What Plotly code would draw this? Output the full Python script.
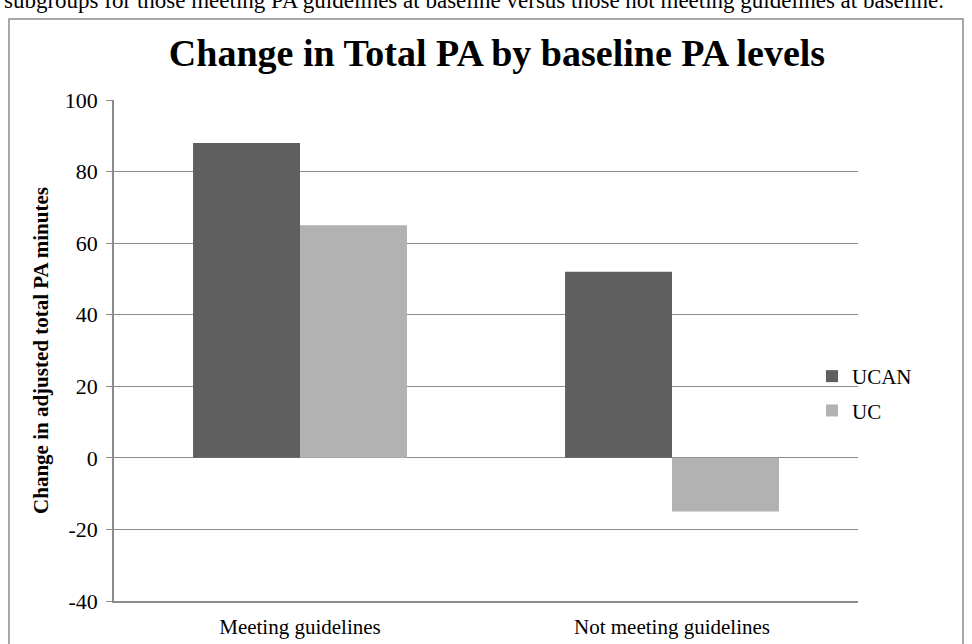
import plotly.graph_objects as go

categories = ["Meeting guidelines", "Not meeting guidelines"]
ucan = [88, 52]
uc = [65, -15]
series_names = ["UCAN", "UC"]
colors = ["#5f5f5f", "#b2b2b2"]
y_ticks = [-40, -20, 0, 20, 40, 60, 80, 100]
y_tick_labels = ["-40", "-20", "0", "20", "40", "60", "80", "100"]
title_text = "Change in Total PA by baseline PA levels"
y_title = "Change in adjusted total PA minutes"
caption = "subgroups for those meeting PA guidelines at baseline versus those not meeting guidelines at baseline."

W, H = 972, 644
L, R, T, B = 114, 114, 100, 43
pw, ph = W - L - R, H - T - B

def px(x):
    return (x - L) / pw

def py(y):
    return (H - B - y) / ph

font = "Liberation Serif"

fig = go.Figure()
for name, vals, c in zip(series_names, [ucan, uc], colors):
    fig.add_trace(go.Bar(x=categories, y=vals, name=name, legendgroup=name,
                         marker=dict(color=c, line=dict(width=0))))

fig.update_layout(
    width=W, height=H,
    margin=dict(l=L, r=R, t=T, b=B, autoexpand=False),
    paper_bgcolor="white", plot_bgcolor="white",
    barmode="group", bargap=0.425, bargroupgap=0,
    font=dict(family=font, color="black", size=21),
    title=dict(text="<b>" + title_text + "</b>", x=497 / W, xanchor="center", xref="container",
               y=(H - 53) / H, yanchor="middle", yref="container",
               font=dict(size=38, family=font)),
    showlegend=True,
    legend=dict(x=px(812), y=py(356), xanchor="left", yanchor="top", font=dict(size=21, family=font),
                bgcolor="rgba(0,0,0,0)", traceorder="grouped", tracegroupgap=4, itemwidth=30),
    xaxis=dict(showgrid=False, showline=True, linecolor="#8c8c8c", linewidth=1.5, ticks="",
               tickfont=dict(size=21), ticklabelstandoff=6, automargin=False),
    yaxis=dict(range=[-40, 100], tickvals=y_ticks, ticktext=y_tick_labels,
               showgrid=True, gridcolor="#8c8c8c", gridwidth=1.2,
               zeroline=True, zerolinecolor="#8c8c8c", zerolinewidth=1.2,
               showline=True, linecolor="#8c8c8c", linewidth=1.5, ticks="outside", ticklen=6,
               tickcolor="#8c8c8c", tickfont=dict(size=22), ticklabelstandoff=4, automargin=False,
               title=dict(text="<b>" + y_title + "</b>", font=dict(size=21), standoff=10)),
)

fig.add_shape(type="rect", xref="paper", yref="paper", x0=px(9), x1=px(963), y0=py(660), y1=py(19),
              line=dict(color="#8c8c8c", width=1.5), fillcolor="rgba(0,0,0,0)", layer="below")
fig.add_annotation(text=caption, xref="paper", yref="paper", x=px(2), y=py(0.5), xanchor="left", yanchor="middle",
                   showarrow=False, font=dict(size=23, family=font, color="black"))

fig.write_html("out.html", config={"displayModeBar": False},
               post_script="document.body.style.margin='0';")
